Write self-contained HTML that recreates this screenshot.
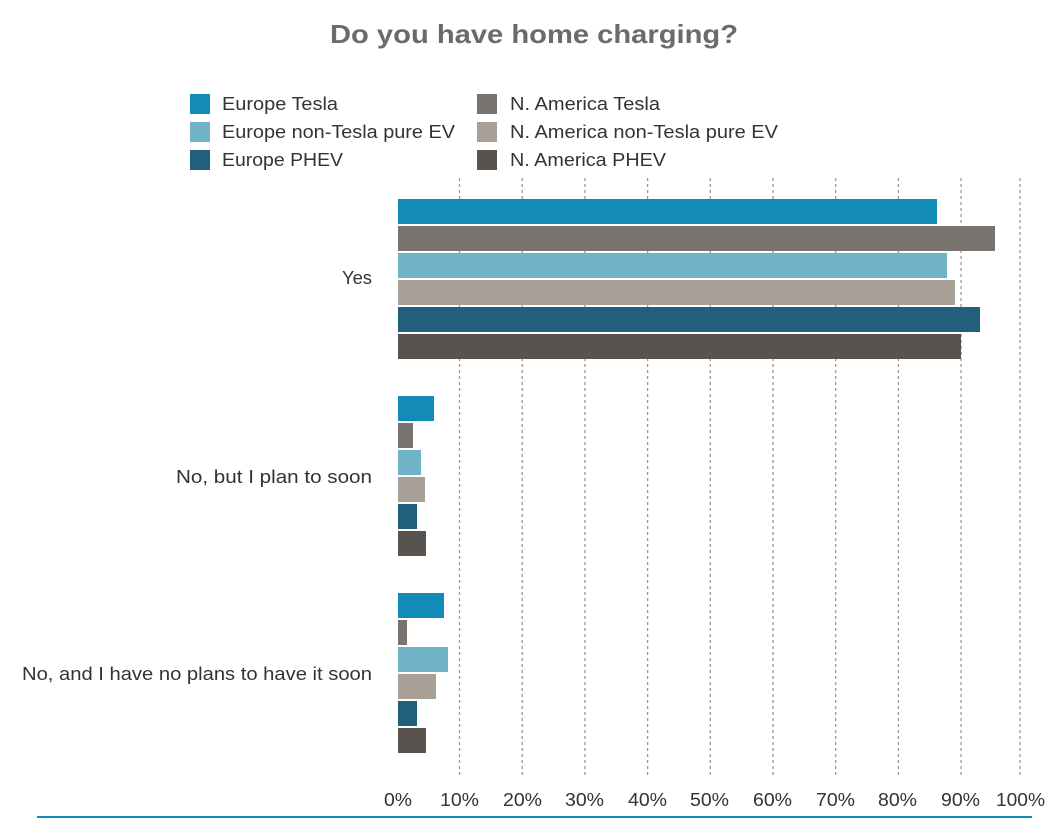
<!DOCTYPE html>
<html><head><meta charset="utf-8"><style>
html,body{margin:0;padding:0;background:#fff;}
svg{display:block;font-family:"Liberation Sans",sans-serif;}
</style></head><body>
<svg width="1060" height="826" viewBox="0 0 1060 826" xmlns="http://www.w3.org/2000/svg">
<text x="330" y="43" font-size="26" font-weight="bold" fill="#6d6b6a" textLength="408" lengthAdjust="spacingAndGlyphs">Do you have home charging?</text>
<g font-size="18" fill="#333">
<rect x="190" y="94" width="20" height="20" fill="#128bb7"/><text x="222" y="110" textLength="116" lengthAdjust="spacingAndGlyphs">Europe Tesla</text>
<rect x="190" y="122" width="20" height="20" fill="#70b3c6"/><text x="222" y="138" textLength="233" lengthAdjust="spacingAndGlyphs">Europe non-Tesla pure EV</text>
<rect x="190" y="150" width="20" height="20" fill="#225f7a"/><text x="222" y="166" textLength="121" lengthAdjust="spacingAndGlyphs">Europe PHEV</text>
<rect x="477" y="94" width="20" height="20" fill="#78736f"/><text x="510" y="110" textLength="150" lengthAdjust="spacingAndGlyphs">N. America Tesla</text>
<rect x="477" y="122" width="20" height="20" fill="#a8a097"/><text x="510" y="138" textLength="268" lengthAdjust="spacingAndGlyphs">N. America non-Tesla pure EV</text>
<rect x="477" y="150" width="20" height="20" fill="#58534f"/><text x="510" y="166" textLength="156" lengthAdjust="spacingAndGlyphs">N. America PHEV</text>
</g>
<g stroke="#999" stroke-width="1.3" stroke-dasharray="3,3">
<line x1="459.5" y1="178" x2="459.5" y2="776"/><line x1="522.2" y1="178" x2="522.2" y2="776"/>
<line x1="584.9" y1="178" x2="584.9" y2="776"/><line x1="647.6" y1="178" x2="647.6" y2="776"/>
<line x1="710.3" y1="178" x2="710.3" y2="776"/><line x1="773" y1="178" x2="773" y2="776"/>
<line x1="835.7" y1="178" x2="835.7" y2="776"/><line x1="898.4" y1="178" x2="898.4" y2="776"/>
<line x1="961.1" y1="178" x2="961.1" y2="776"/><line x1="1020" y1="178" x2="1020" y2="776"/>
</g>
<g>
<rect x="398" y="199" width="539" height="25" fill="#128bb7"/>
<rect x="398" y="226" width="597" height="25" fill="#78736f"/>
<rect x="398" y="253" width="549" height="25" fill="#70b3c6"/>
<rect x="398" y="280" width="557" height="25" fill="#a8a097"/>
<rect x="398" y="307" width="582" height="25" fill="#225f7a"/>
<rect x="398" y="334" width="563" height="25" fill="#58534f"/>

<rect x="398" y="396" width="36" height="25" fill="#128bb7"/>
<rect x="398" y="423" width="15" height="25" fill="#78736f"/>
<rect x="398" y="450" width="23" height="25" fill="#70b3c6"/>
<rect x="398" y="477" width="27" height="25" fill="#a8a097"/>
<rect x="398" y="504" width="19" height="25" fill="#225f7a"/>
<rect x="398" y="531" width="28" height="25" fill="#58534f"/>

<rect x="398" y="593" width="46" height="25" fill="#128bb7"/>
<rect x="398" y="620" width="9" height="25" fill="#78736f"/>
<rect x="398" y="647" width="50" height="25" fill="#70b3c6"/>
<rect x="398" y="674" width="38" height="25" fill="#a8a097"/>
<rect x="398" y="701" width="19" height="25" fill="#225f7a"/>
<rect x="398" y="728" width="28" height="25" fill="#58534f"/>
</g>
<g font-size="18" fill="#333">
<text x="342" y="284" textLength="30" lengthAdjust="spacingAndGlyphs">Yes</text>
<text x="176" y="483" textLength="196" lengthAdjust="spacingAndGlyphs">No, but I plan to soon</text>
<text x="22" y="680" textLength="350" lengthAdjust="spacingAndGlyphs">No, and I have no plans to have it soon</text>
</g>
<g font-size="18" fill="#333">
<text x="384" y="806" textLength="28" lengthAdjust="spacingAndGlyphs">0%</text>
<text x="440" y="806" textLength="39" lengthAdjust="spacingAndGlyphs">10%</text>
<text x="503" y="806" textLength="39" lengthAdjust="spacingAndGlyphs">20%</text>
<text x="565" y="806" textLength="39" lengthAdjust="spacingAndGlyphs">30%</text>
<text x="628" y="806" textLength="39" lengthAdjust="spacingAndGlyphs">40%</text>
<text x="690" y="806" textLength="39" lengthAdjust="spacingAndGlyphs">50%</text>
<text x="753" y="806" textLength="39" lengthAdjust="spacingAndGlyphs">60%</text>
<text x="816" y="806" textLength="39" lengthAdjust="spacingAndGlyphs">70%</text>
<text x="878" y="806" textLength="39" lengthAdjust="spacingAndGlyphs">80%</text>
<text x="941" y="806" textLength="39" lengthAdjust="spacingAndGlyphs">90%</text>
<text x="996" y="806" textLength="49" lengthAdjust="spacingAndGlyphs">100%</text>
</g>
<rect x="37" y="816" width="995" height="2" fill="#128bb7"/>
</svg>
</body></html>
